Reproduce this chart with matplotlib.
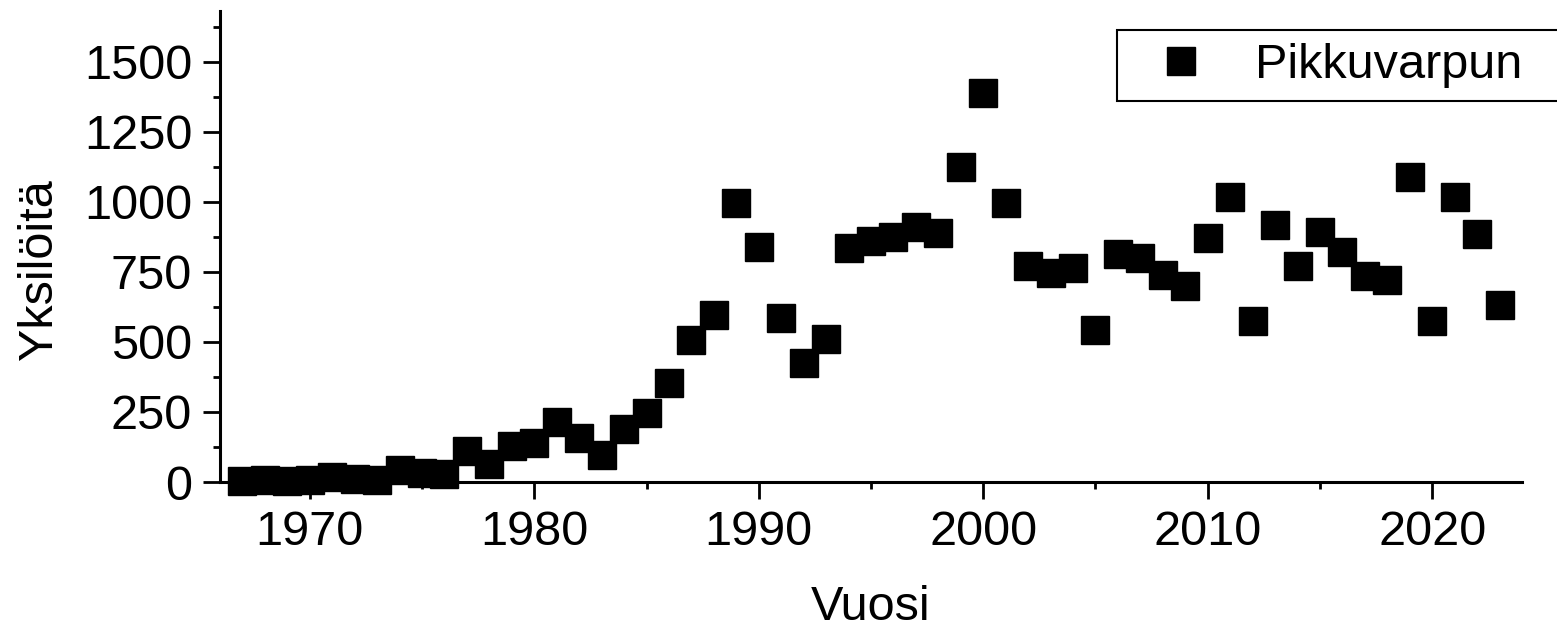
import matplotlib
matplotlib.use("Agg")
import matplotlib.pyplot as plt
from matplotlib.ticker import MultipleLocator

# Vuosittaiset yksilömäärät (luettu kuvasta)
years = list(range(1967, 2024))
counts = [2, 6, 2, 6, 18, 12, 8, 44, 32, 27,
          111, 66, 129, 141, 215, 156, 97, 191, 245, 354,
          508, 595, 995, 838, 584, 426, 509, 835, 862, 874,
          910, 890, 1125, 1390, 995, 773, 747, 764, 543, 815,
          801, 738, 700, 872, 1017, 575, 917, 772, 891, 822,
          735, 723, 1090, 576, 1017, 886, 631]
series_name = "Pikkuvarpun"
x_label = "Vuosi"
y_label = "Yksilöitä"

plt.rcParams["font.family"] = ["Liberation Sans", "DejaVu Sans"]

W, H = 1557, 636
fig = plt.figure(figsize=(W / 100, H / 100), dpi=100)
ax = fig.add_axes([220 / W, 1 - 482 / H, (1522 - 220) / W, (482 - 11) / H])

ax.plot(years, counts, ls="", marker="s", markersize=20, color="black",
        label=series_name, clip_on=False, zorder=3)

ax.set_xlim(1966, 2024)
ax.set_ylim(0, 1682)

ax.xaxis.set_major_locator(MultipleLocator(10))
ax.xaxis.set_minor_locator(MultipleLocator(5))
ax.yaxis.set_major_locator(MultipleLocator(250))
ax.yaxis.set_minor_locator(MultipleLocator(125))

for side in ("top", "right"):
    ax.spines[side].set_visible(False)
for side in ("left", "bottom"):
    ax.spines[side].set_linewidth(2.2)

ax.tick_params(which="major", direction="out", length=12, width=2,
               labelsize=35, pad=8)
ax.tick_params(which="minor", direction="out", length=5, width=2)

ax.set_xlabel(x_label, fontsize=35, labelpad=22)
ax.set_ylabel(y_label, fontsize=35)
ax.yaxis.set_label_coords(-0.121, 0.45)

# legenda jatkuu kuvan oikean reunan yli kuten alkuperäisessä
leg = fig.legend(loc="upper left",
                 bbox_to_anchor=(1117 / W, 1 - 30 / H, 500 / W, 0),
                 bbox_transform=fig.transFigure, borderaxespad=0,
                 mode="expand", fontsize=35, frameon=True, fancybox=False,
                 edgecolor="black", framealpha=1, handlelength=2.1,
                 handletextpad=0.47, numpoints=1, borderpad=0.27)
leg.get_frame().set_linewidth(1.5)

fig.savefig("out.png", dpi=100)
